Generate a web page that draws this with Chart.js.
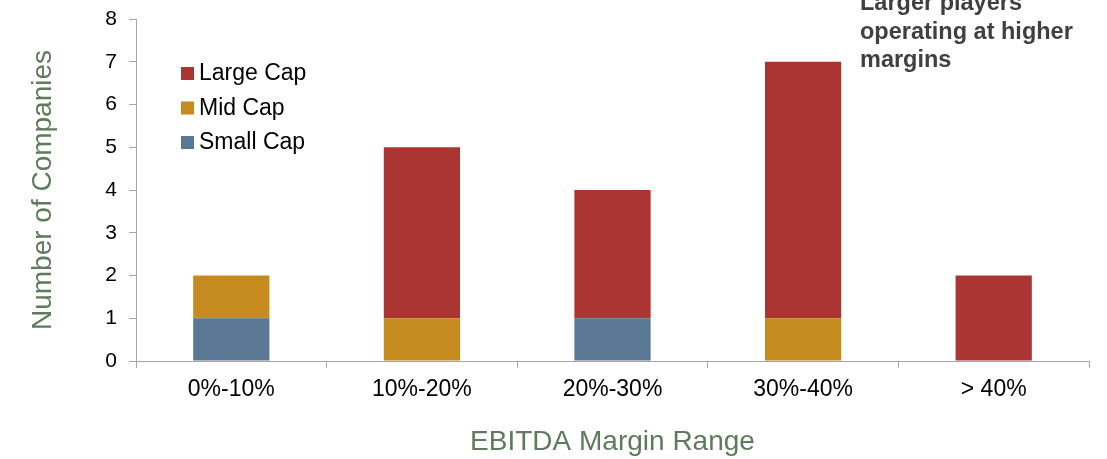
<!DOCTYPE html>
<html>
<head>
<meta charset="utf-8">
<script src="https://cdn.jsdelivr.net/npm/chart.js@4.4.0/dist/chart.umd.min.js"></script>
<style>
  html, body { margin: 0; padding: 0; background: #fff; }
  #wrap { width: 1107px; height: 459px; }
</style>
</head>
<body>
<div id="wrap"><canvas id="chart" width="1107" height="459"></canvas></div>
<script>
const categories = ['0%-10%', '10%-20%', '20%-30%', '30%-40%', '> 40%'];
const smallCap = [1, 0, 1, 0, 0];
const midCap = [1, 1, 0, 1, 0];
const largeCap = [0, 4, 3, 6, 2];
const yTicks = [0, 1, 2, 3, 4, 5, 6, 7, 8];
const noteLines = ['Larger players', 'operating at higher', 'margins'];

const FONT = '"Liberation Sans", Arial, sans-serif';
const AXIS_GREY = '#a6a6a6';
const TITLE_GREEN = '#5f7a5c';

// legend + annotation drawn inside the plot area
const overlay = {
  id: 'overlay',
  afterDraw(chart) {
    const ctx = chart.ctx;
    ctx.save();
    ctx.font = '23px ' + FONT;
    ctx.textBaseline = 'middle';
    const order = chart.data.datasets.slice().reverse();
    order.forEach((ds, i) => {
      const y = 73 + i * 34.5;
      ctx.fillStyle = ds.backgroundColor;
      ctx.fillRect(181, y - 6, 13, 13);
      ctx.fillStyle = '#000';
      ctx.fillText(ds.label, 199, y + 1);
    });
    ctx.font = 'bold 23.5px ' + FONT;
    ctx.fillStyle = '#404040';
    noteLines.forEach((t, i) => ctx.fillText(t, 860, 4 + i * 28.5));
    ctx.restore();
  }
};

new Chart(document.getElementById('chart').getContext('2d'), {
  type: 'bar',
  data: {
    labels: categories,
    datasets: [
      { label: 'Small Cap', data: smallCap, backgroundColor: '#5a7793' },
      { label: 'Mid Cap', data: midCap, backgroundColor: '#c68b1f' },
      { label: 'Large Cap', data: largeCap, backgroundColor: '#ab3532' }
    ]
  },
  options: {
    responsive: false,
    animation: false,
    layout: { padding: { top: 19, right: 18, left: 0, bottom: 0 } },
    datasets: { bar: { barPercentage: 0.4, categoryPercentage: 1 } },
    plugins: { legend: { display: false }, tooltip: { enabled: false } },
    scales: {
      x: {
        stacked: true,
        afterFit: (s) => { s.height = 98; s.paddingLeft = 0; s.paddingRight = 0; },
        border: { color: AXIS_GREY, width: 1 },
        grid: { drawOnChartArea: false, color: AXIS_GREY, tickLength: 7, offset: true },
        ticks: { color: '#000', font: { family: FONT, size: 23 }, padding: 8, maxRotation: 0 },
        title: { display: true, text: 'EBITDA Margin Range', color: TITLE_GREEN,
                 font: { family: FONT, size: 28 }, padding: { top: 0, bottom: 0 } }
      },
      y: {
        stacked: true,
        min: 0,
        max: 8,
        afterFit: (s) => { s.width = 136; s.paddingTop = 0; s.paddingBottom = 0; },
        afterBuildTicks: (s) => { s.ticks = yTicks.map(v => ({ value: v })); },
        border: { color: AXIS_GREY, width: 1 },
        grid: { drawOnChartArea: false, color: AXIS_GREY, tickLength: 7 },
        ticks: { color: '#000', font: { family: FONT, size: 21 }, padding: 12 },
        title: { display: true, text: 'Number of Companies', color: TITLE_GREEN,
                 font: { family: FONT, size: 28 }, padding: { top: 26, bottom: 0 } }
      }
    }
  },
  plugins: [overlay]
});
</script>
</body>
</html>
